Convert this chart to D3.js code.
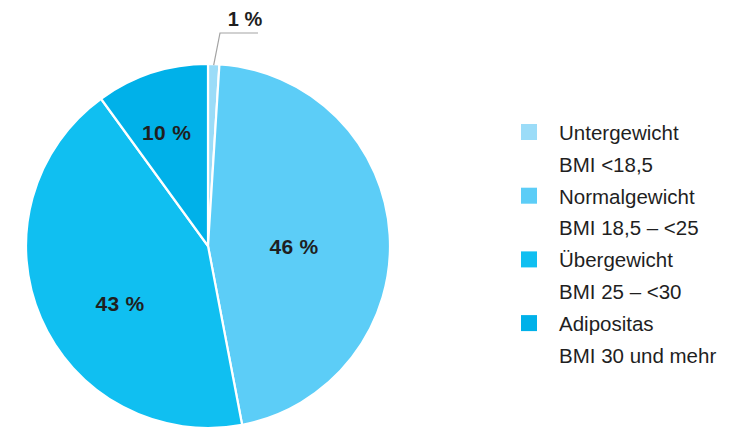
<!DOCTYPE html>
<html>
<head>
<meta charset="utf-8">
<script src="https://cdn.jsdelivr.net/npm/d3@7/dist/d3.min.js"></script>
<style>
  html, body { margin: 0; padding: 0; background: #fff; }
  svg { display: block; }
  text { font-family: "Liberation Sans", Arial, sans-serif; fill: #1f1f1f; }
</style>
</head>
<body>
<svg id="chart" width="744" height="427"></svg>
<script>
// BMI categories and their shares (%)
const categories = ["Untergewicht", "Normalgewicht", "Übergewicht", "Adipositas"];
const ranges = ["BMI <18,5", "BMI 18,5 – <25", "BMI 25 – <30", "BMI 30 und mehr"];
const shares = [1, 46, 43, 10];
const colors = ["#9bdcf8", "#5ccdf7", "#10bff1", "#00b1e9"];

// where the in-slice labels sit: angle (deg, clockwise from top) and radius
const labelAngle = [null, 90, 237, 340];
const labelRadius = [null, 86, 105, 121];

const svg = d3.select("#chart");
const cx = 208, cy = 246, R = 182;

const pie = d3.pie().sort(null).value(d => d)(shares);
const arc = d3.arc().innerRadius(0).outerRadius(R);

const g = svg.append("g").attr("transform", `translate(${cx},${cy})`);

g.selectAll("path.slice")
  .data(pie)
  .join("path")
  .attr("class", "slice")
  .attr("d", arc)
  .attr("fill", (d, i) => colors[i])
  .attr("stroke", "#fff")
  .attr("stroke-width", 2.2)
  .attr("stroke-linejoin", "round");

const fmt = v => `${v} %`;

// labels inside the larger slices
pie.forEach((d, i) => {
  if (labelAngle[i] === null) return;
  const a = labelAngle[i] * Math.PI / 180;
  const x = labelRadius[i] * Math.sin(a);
  const y = -labelRadius[i] * Math.cos(a);
  g.append("text")
    .attr("x", x)
    .attr("y", y)
    .attr("dy", "0.36em")
    .attr("text-anchor", "middle")
    .attr("font-size", 21)
    .attr("letter-spacing", 0.3)
    .attr("font-weight", "bold")
    .text(fmt(shares[i]));
});

// the 1 % slice gets an outside label with a leader line
{
  const d = pie[0];
  const mid = (d.startAngle + d.endAngle) / 2;
  const p0 = [(R - 1) * Math.sin(mid), -(R - 1) * Math.cos(mid)];
  const elbow = [12, -213];
  const end = [50, -213];
  g.append("polyline")
    .attr("points", [p0, elbow, end].map(p => p.join(",")).join(" "))
    .attr("fill", "none")
    .attr("stroke", "#a3a3a3")
    .attr("stroke-width", 1.2);
  g.append("text")
    .attr("x", 37)
    .attr("y", -220)
    .attr("text-anchor", "middle")
    .attr("font-size", 20)
    .attr("font-weight", "bold")
    .text(fmt(shares[0]));
}

// legend
const legend = svg.append("g").attr("transform", "translate(521,0)");
const item = legend.selectAll("g.item")
  .data(categories)
  .join("g")
  .attr("class", "item")
  .attr("transform", (d, i) => `translate(0,${140 + i * 63.7})`);

item.append("rect")
  .attr("x", 0).attr("y", -16)
  .attr("width", 16).attr("height", 16)
  .attr("fill", (d, i) => colors[i]);

item.append("text")
  .attr("x", 38).attr("y", 0)
  .attr("font-size", 20.5)
  .text(d => d);

item.append("text")
  .attr("x", 38).attr("y", 31.5)
  .attr("font-size", 20.5)
  .text((d, i) => ranges[i]);
</script>
</body>
</html>
